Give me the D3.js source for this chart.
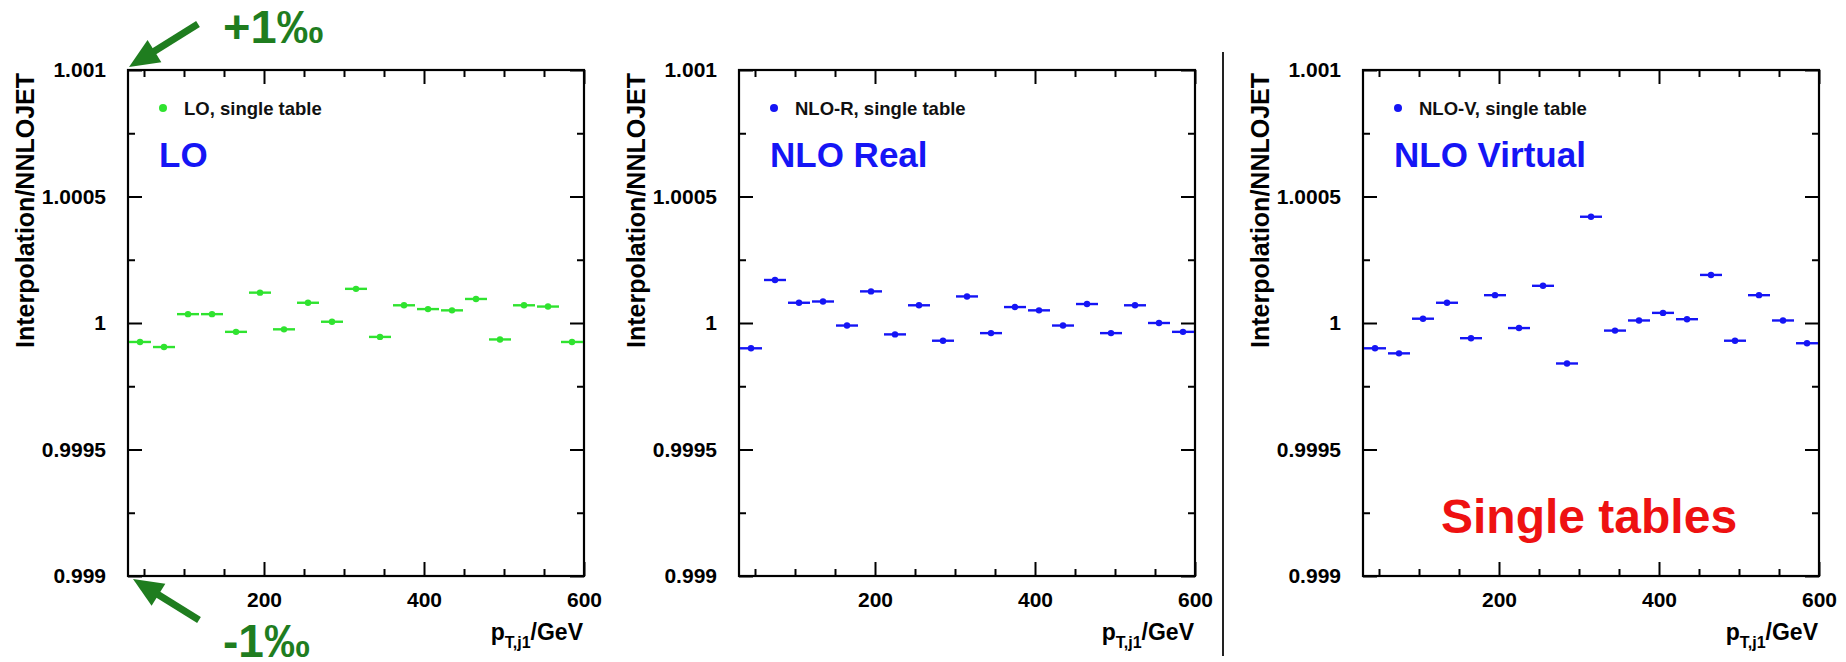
<!DOCTYPE html>
<html>
<head>
<meta charset="utf-8">
<script src="https://cdn.jsdelivr.net/npm/d3@7"></script>
<style>
  html, body { margin: 0; padding: 0; background: #fff; }
  svg { display: block; }
  text { font-family: "Liberation Sans", Arial, Helvetica, sans-serif; }
</style>
</head>
<body>
<svg id="chart" width="1846" height="662"></svg>
<script>
// ---------------- data ----------------
const ptLow  = [30, 60, 90, 120, 150, 180, 210, 240, 270, 300, 330, 360, 390, 420, 450, 480, 510, 540, 570];
const ptHigh = [60, 90, 120, 150, 180, 210, 240, 270, 300, 330, 360, 390, 420, 450, 480, 510, 540, 570, 600];

const loRatio   = [0.999925, 0.999905, 1.000035, 1.000035, 0.999965, 1.00012, 0.999975, 1.00008, 1.000005, 1.000135,
                   0.999945, 1.00007, 1.000055, 1.00005, 1.000095, 0.999935, 1.00007, 1.000065, 0.999925];
const nloRRatio = [0.99990, 1.00017, 1.00008, 1.000085, 0.99999, 1.000125, 0.999955, 1.00007, 0.99993, 1.000105,
                   0.99996, 1.000063, 1.00005, 0.99999, 1.000075, 0.99996, 1.00007, 1.00000, 0.999965];
const nloVRatio = [0.99990, 0.99988, 1.000017, 1.00008, 0.99994, 1.00011, 0.99998, 1.000147, 0.99984, 1.00042,
                   0.99997, 1.00001, 1.00004, 1.000015, 1.00019, 0.99993, 1.00011, 1.00001, 0.99992];

const panelLegends = ["LO, single table", "NLO-R, single table", "NLO-V, single table"];
const panelTitles  = ["LO", "NLO Real", "NLO Virtual"];

const yDomain = [0.999, 1.001];
const xDomain = [30, 600];
const yMajorTicks = [0.999, 0.9995, 1, 1.0005, 1.001];
const yTickLabels = ["0.999", "0.9995", "1", "1.0005", "1.001"];
const yMinorTicks = [0.99925, 0.99975, 1.00025, 1.00075];
const xMajorTicks = [200, 400, 600];
const xTickLabels = ["200", "400", "600"];
const xMinorTicks = [50, 100, 150, 250, 300, 350, 450, 500, 550];

const yTitle = "Interpolation/NNLOJET";
const annotUp = "+1\u2030";
const annotDown = "-1\u2030";
const bigNote = "Single tables";

// ---------------- layout / style ----------------
const svg = d3.select("#chart");
const frameTop = 70, frameBottom = 576;
const panelLefts = [128, 739, 1363];
const panelWidth = 456;
const green = "#2fe32f", blue = "#1515f5", darkGreen = "#1f7d1f";
const seriesColors = [green, blue, blue];
const seriesData = [loRatio, nloRRatio, nloVRatio];

const yFmt = d => yTickLabels[yMajorTicks.indexOf(d)];
const xFmt = d => xTickLabels[xMajorTicks.indexOf(d)];

panelLefts.forEach((left, i) => {
  const right = left + panelWidth;
  const x = d3.scaleLinear().domain(xDomain).range([left, right]);
  const y = d3.scaleLinear().domain(yDomain).range([frameBottom, frameTop]);
  const g = svg.append("g");

  const styleAxis = sel => {
    sel.select(".domain").remove();
    sel.selectAll(".tick line").attr("stroke", "#000").attr("stroke-width", 2);
    sel.selectAll(".tick text").attr("fill", "#000").attr("font-size", 21).attr("font-weight", "bold")
       .style("font-family", '"Liberation Sans", Arial, sans-serif');
  };

  // bottom axis with labels
  g.append("g").attr("transform", `translate(0,${frameBottom})`)
    .call(d3.axisBottom(x).tickValues(xMajorTicks).tickFormat(xFmt).tickSizeInner(-14).tickSizeOuter(0).tickPadding(16))
    .call(styleAxis);
  g.append("g").attr("transform", `translate(0,${frameBottom})`)
    .call(d3.axisBottom(x).tickValues(xMinorTicks).tickFormat("").tickSizeInner(-7).tickSizeOuter(0))
    .call(styleAxis);
  // top axis
  g.append("g").attr("transform", `translate(0,${frameTop})`)
    .call(d3.axisTop(x).tickValues(xMajorTicks).tickFormat("").tickSizeInner(-14).tickSizeOuter(0))
    .call(styleAxis);
  g.append("g").attr("transform", `translate(0,${frameTop})`)
    .call(d3.axisTop(x).tickValues(xMinorTicks).tickFormat("").tickSizeInner(-7).tickSizeOuter(0))
    .call(styleAxis);
  // left axis with labels
  g.append("g").attr("transform", `translate(${left},0)`)
    .call(d3.axisLeft(y).tickValues(yMajorTicks).tickFormat(yFmt).tickSizeInner(-14).tickSizeOuter(0).tickPadding(22))
    .call(styleAxis);
  g.append("g").attr("transform", `translate(${left},0)`)
    .call(d3.axisLeft(y).tickValues(yMinorTicks).tickFormat("").tickSizeInner(-7).tickSizeOuter(0))
    .call(styleAxis);
  // right axis
  g.append("g").attr("transform", `translate(${right},0)`)
    .call(d3.axisRight(y).tickValues(yMajorTicks).tickFormat("").tickSizeInner(-14).tickSizeOuter(0))
    .call(styleAxis);
  g.append("g").attr("transform", `translate(${right},0)`)
    .call(d3.axisRight(y).tickValues(yMinorTicks).tickFormat("").tickSizeInner(-7).tickSizeOuter(0))
    .call(styleAxis);

  // frame
  g.append("rect").attr("x", left).attr("y", frameTop).attr("width", panelWidth).attr("height", frameBottom - frameTop)
    .attr("fill", "none").attr("stroke", "#000").attr("stroke-width", 2.2);

  // data
  const col = seriesColors[i];
  const pts = seriesData[i].map((v, k) => ({ lo: ptLow[k], hi: ptHigh[k], v }));
  g.selectAll(".bar").data(pts).enter().append("line")
    .attr("x1", d => x(d.lo) + 1).attr("x2", d => x(d.hi) - 1)
    .attr("y1", d => y(d.v)).attr("y2", d => y(d.v))
    .attr("stroke", col).attr("stroke-width", 2.4);
  g.selectAll(".pt").data(pts).enter().append("circle")
    .attr("cx", d => x((d.lo + d.hi) / 2)).attr("cy", d => y(d.v)).attr("r", 3.2)
    .attr("fill", col);

  // legend
  g.append("circle").attr("cx", left + 35).attr("cy", 108).attr("r", 4).attr("fill", col);
  g.append("text").attr("x", left + 56).attr("y", 115).attr("font-size", 18.5).attr("font-weight", "bold")
    .attr("fill", "#111").text(panelLegends[i]);

  // panel title
  g.append("text").attr("x", left + 31).attr("y", 167).attr("font-size", 35).attr("font-weight", "bold")
    .attr("fill", blue).text(panelTitles[i]);

  // y title
  g.append("text").attr("transform", `translate(${left - 94},${frameTop + 3}) rotate(-90)`)
    .attr("text-anchor", "end").attr("font-size", 25).attr("font-weight", "bold").attr("fill", "#000")
    .text(yTitle);

  // x title
  const xt = g.append("text").attr("x", right - 1).attr("y", 640).attr("text-anchor", "end")
    .attr("font-size", 23).attr("font-weight", "bold").attr("fill", "#000");
  xt.append("tspan").text("p");
  xt.append("tspan").attr("font-size", 16).attr("dy", 8).text("T,j1");
  xt.append("tspan").attr("dy", -8).text("/GeV");
});

// separator
svg.append("line").attr("x1", 1223).attr("x2", 1223).attr("y1", 52).attr("y2", 656)
  .attr("stroke", "#222").attr("stroke-width", 2);

// Single tables
svg.append("text").attr("x", 1441).attr("y", 533).attr("font-size", 48).attr("font-weight", "bold")
  .attr("fill", "#ee1111").text(bigNote);

// annotations with arrows
function arrow(x1, y1, x2, y2) {
  const ang = Math.atan2(y2 - y1, x2 - x1);
  const headLen = 30, headHalf = 13;
  const bx = x2 - headLen * Math.cos(ang), by = y2 - headLen * Math.sin(ang);
  svg.append("line").attr("x1", x1).attr("y1", y1).attr("x2", bx + 3 * Math.cos(ang)).attr("y2", by + 3 * Math.sin(ang))
    .attr("stroke", darkGreen).attr("stroke-width", 7);
  const px = -Math.sin(ang), py = Math.cos(ang);
  svg.append("polygon")
    .attr("points", [[x2, y2], [bx + headHalf * px, by + headHalf * py], [bx - headHalf * px, by - headHalf * py]].map(p => p.join(",")).join(" "))
    .attr("fill", darkGreen);
}
arrow(198, 24, 129, 67);
arrow(199, 620, 133, 579);
svg.append("text").attr("x", 223).attr("y", 43).attr("font-size", 47).attr("font-weight", "bold")
  .attr("fill", darkGreen).text(annotUp);
svg.append("text").attr("x", 223).attr("y", 657).attr("font-size", 46).attr("font-weight", "bold")
  .attr("fill", darkGreen).text(annotDown);
</script>
</body>
</html>
